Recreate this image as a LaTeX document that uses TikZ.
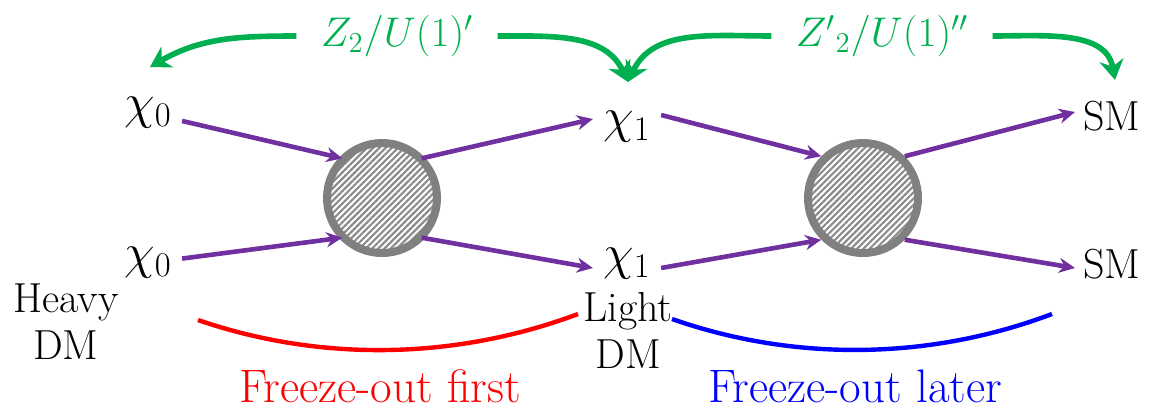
\documentclass[tikz,border=0pt]{standalone}
\usetikzlibrary{arrows.meta,patterns.meta}
\definecolor{dmpurple}{HTML}{7030A0}
\definecolor{symgreen}{HTML}{00B050}
\tikzset{
  lbl/.style={font=\fontsize{21}{23.5}\selectfont, inner sep=4pt},
  mth/.style={font=\fontsize{24}{28}\selectfont, inner sep=5pt},
  grp/.style={font=\fontsize{22}{26}\selectfont, text=symgreen, inner xsep=12pt},
  frz/.style={font=\fontsize{23.5}{27}\selectfont},
  blob/.style={circle, draw=gray, line width=4pt, minimum size=55pt,
    pattern={Lines[angle=45,distance=2.2pt,line width=1.1pt]}, pattern color=gray!90},
  flow/.style={draw=dmpurple, line width=2.3pt, -{Stealth[length=8pt,width=7.5pt]}},
  sym/.style={draw=symgreen, line width=2.8pt, -{Stealth[length=10pt,width=12pt]}},
}
\begin{document}
\begin{tikzpicture}[x=0.5pt, y=-0.5pt]
    \useasboundingbox (0,0) rectangle (1150,409);
    % 绘制粒子
    \node[mth] (chi0a) at (148,113) {$\chi_0$};
    \node[mth] (chi0b) at (148,263) {$\chi_0$};
    \node[mth] (chi1a) at (627,127) {$\chi_1$};
    \node[mth] (chi1b) at (627,264) {$\chi_1$};
    \node[lbl] (smA) at (1112,116) {SM};
    \node[lbl] (smB) at (1112,264) {SM};
    \node[lbl, align=center] (heavy) at (66,322) {Heavy\\DM};
    \node[lbl, align=center] (light) at (628,330) {Light\\DM};

    % 绘制散射顶点
    \node[blob] (blobA) at (382,198) {};
    \node[blob] (blobB) at (863,198) {};

    % 绘制箭头
    \draw[flow] (chi0a) -- (blobA.135);
    \draw[flow] (chi0b) -- (blobA.225);
    \draw[flow] (blobA.45) -- ([yshift=4pt]chi1a.west);
    \draw[flow] (blobA.315) -- ([yshift=-2pt]chi1b.west);
    \draw[flow] ([yshift=6pt]chi1a.east) -- (blobB.135);
    \draw[flow] ([yshift=-2pt]chi1b.east) -- (blobB.225);
    \draw[flow] (blobB.45) -- ([yshift=2pt]smA.west);
    \draw[flow] (blobB.315) -- ([yshift=-2pt]smB.west);

    % 绘制对称性
    \node[grp] (zA) at (397,36) {$Z_2/U(1)'$};
    \node[grp] (zB) at (882,36) {${Z'}_2/U(1)''$};
    \coordinate (tipHeavy) at (150,67);
    \coordinate (tipLight) at (628,82);
    \coordinate (tipSM) at (1115,80);
    \draw[sym] (zA.west) to[out=180, in=30] (tipHeavy);
    \draw[sym] (zA.east) to[out=0, in=115] (tipLight);
    \draw[sym] (zB.west) to[out=180, in=65] (tipLight);
    \draw[sym] (zB.east) to[out=0, in=100] (tipSM);

    % 绘制冻结
    \draw[red, line width=2.2pt] (198,320) .. controls (320,362) and (455,360) .. (578,314);
    \draw[blue, line width=2.2pt] (672,319) .. controls (795,362) and (930,360) .. (1052,314);
    \node[frz, red] (first) at (380,386) {Freeze-out first};
    \node[frz, blue] (later) at (855,386) {Freeze-out later};
\end{tikzpicture}
\end{document}
